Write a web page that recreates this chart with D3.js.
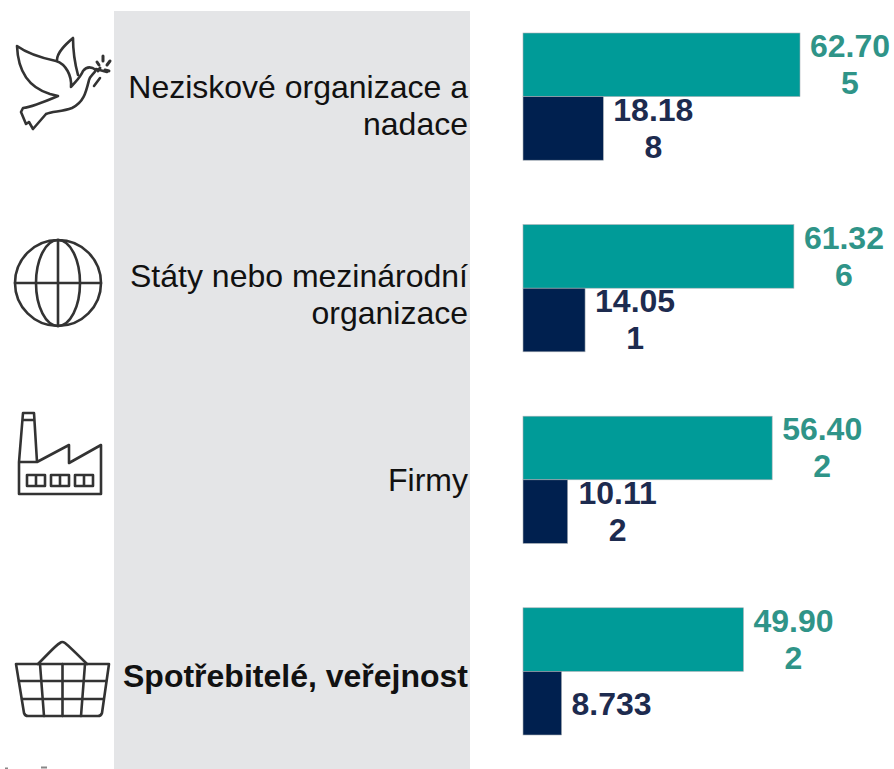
<!DOCTYPE html>
<html lang="en">
<head>
  <meta charset="UTF-8">
  <title>Neziskové organizace, státy, firmy, spotřebitelé</title>
  <script src="https://d3js.org/d3.v7.min.js"></script>
  <style>
    html, body { margin: 0; padding: 0; background: #fff; overflow: hidden; }
    svg { display: block; }
    .cat { font-family: "Liberation Sans", Arial, sans-serif; font-size: 32px; fill: #111; text-anchor: end; }
    .val { font-family: "Liberation Sans", Arial, sans-serif; font-size: 32px; font-weight: bold; text-anchor: middle; }
    .icon { fill: none; stroke: #333; stroke-width: 2.6; stroke-linejoin: round; stroke-linecap: round; }
  </style>
</head>
<body>
  <svg width="894" height="769"></svg>

  <script>
    const categories = ["Neziskové organizace a nadace", "Státy nebo mezinárodní organizace", "Firmy", "Spotřebitelé, veřejnost"];
    const categoryLines = [["Neziskové organizace a", "nadace"], ["Státy nebo mezinárodní", "organizace"], ["Firmy"], ["Spotřebitelé, veřejnost"]];
    const seriesNames = ["teal", "navy"];
    const tealValues = [62705, 61326, 56402, 49902];
    const navyValues = [18188, 14051, 10112, 8733];
    const tealLabels = [["62.70", "5"], ["61.32", "6"], ["56.40", "2"], ["49.90", "2"]];
    const navyLabels = [["18.18", "8"], ["14.05", "1"], ["10.11", "2"], ["8.733"]];

    const svg = d3.select("svg");

    svg.append("rect").attr("x", 114).attr("y", 11).attr("width", 356).attr("height", 758).attr("fill", "#e4e5e7");

    const x = d3.scaleLinear().domain([0, 62705]).range([523, 800]);
    const y = d3.scaleBand().domain(categories).range([33, 735]).paddingInner(0.336).paddingOuter(0);
    const ySub = d3.scaleBand().domain(seriesNames).range([0, y.bandwidth()]);
    const color = d3.scaleOrdinal().domain(seriesNames).range(["#009b98", "#00204f"]);
    const textColor = d3.scaleOrdinal().domain(seriesNames).range(["#2f9488", "#1d2b4f"]);

    const groups = svg.selectAll("g.group").data(categories).enter().append("g")
      .attr("class", "group")
      .attr("transform", d => `translate(0,${y(d)})`);

    seriesNames.forEach((s, si) => {
      const values = si === 0 ? tealValues : navyValues;
      const labels = si === 0 ? tealLabels : navyLabels;
      groups.append("rect")
        .attr("x", x(0))
        .attr("y", ySub(s))
        .attr("width", (d, i) => x(values[i]) - x(0))
        .attr("height", ySub.bandwidth())
        .attr("fill", color(s))
        .attr("stroke", "#a9b0b5")
        .attr("stroke-width", 0.6);
      // labels wrap in the source, second line is centred under the first
      const t = groups.append("text")
        .attr("class", "val")
        .attr("fill", textColor(s))
        .attr("transform", (d, i) => `translate(${x(values[i]) + 50},${ySub(s)})`);
      t.selectAll("tspan").data((d, i) => labels[i]).enter().append("tspan")
        .attr("x", 0)
        .attr("y", (d, j, n) => n.length === 1 ? 44 : 24 + j * 37)
        .text(d => d);
    });

    // category labels, right aligned against the panel edge
    const labelBase = [65, 62, 75, 79];
    groups.each(function (d, i) {
      const text = d3.select(this).append("text").attr("class", "cat");
      if (i === 3) text.style("font-weight", "bold");
      categoryLines[i].forEach((line, j) => {
        text.append("tspan")
          .attr("x", 468)
          .attr("y", labelBase[i] + j * 37)
          .text(line);
      });
    });

    // icons
    const icons = svg.append("g").attr("class", "icon");
    // dove
    const dove = icons.append("g");
    dove.append("path").attr("d", "M17 46 C28 54 42 58 56 61 C66 64 72 76 71 87 C76 81 80 78 83 71 C87 66 92 67 96 70 C94 74 90 76 89 80 C86 92 84 102 72 108 C62 112 52 111 46 114 L33 129 L29 122 L26 124 L21 112 L23 108 C32 107 44 102 58 96 L50 94 C30 88 18 72 17 46 Z");
    dove.append("path").attr("d", "M57 60 C57 52 66 44 73 38 C73 50 75 64 78 75");
    dove.append("path").attr("d", "M94 86 L100 78 M96 69 L107 72");
    dove.append("path").attr("stroke-width", 3).attr("d", "M97 62 L99 65 M103 56 L103 61 M110 61 L107 65 M98 71 L100 68 M109 71 L105 70");
    // globe
    const globe = icons.append("g");
    globe.append("circle").attr("cx", 58).attr("cy", 283).attr("r", 43);
    globe.append("ellipse").attr("cx", 58).attr("cy", 283).attr("rx", 22).attr("ry", 43);
    globe.append("path").attr("d", "M58 240 V326 M15 283 H101");
    // factory
    const factory = icons.append("g");
    factory.append("path").attr("d", "M19 462 L23 413 H34 L37 462 M23 420 H34 M19 462 V494 H101 V445 L69 463 V445 L37 462 H19");
    factory.append("path").attr("d", "M27 475 H45 V486 H27 Z M36 475 V486 M51 475 H69 V486 H51 Z M60 475 V486 M75 475 H93 V486 H75 Z M84 475 V486");
    // basket
    const basket = icons.append("g");
    basket.append("path").attr("d", "M16 664 H109 L102 713 Q101 716 98 716 H28 Q25 716 24 713 Z");
    basket.append("path").attr("d", "M38 664 C50 652 56 645 60 643 Q62 641 65 643 C70 647 78 655 87 664");
    basket.append("path").attr("d", "M40 664 L44 716 M62.5 664 V716 M85 664 L81 716 M19 681 H106 M22 699 H103");

    // tops of glyphs cut off by the bottom edge of the source image
    svg.append("path").attr("d", "M5 768.5 H8 M41 767.5 H47").attr("stroke", "#888").attr("stroke-width", 2).attr("fill", "none");
  </script>
</body>
</html>
